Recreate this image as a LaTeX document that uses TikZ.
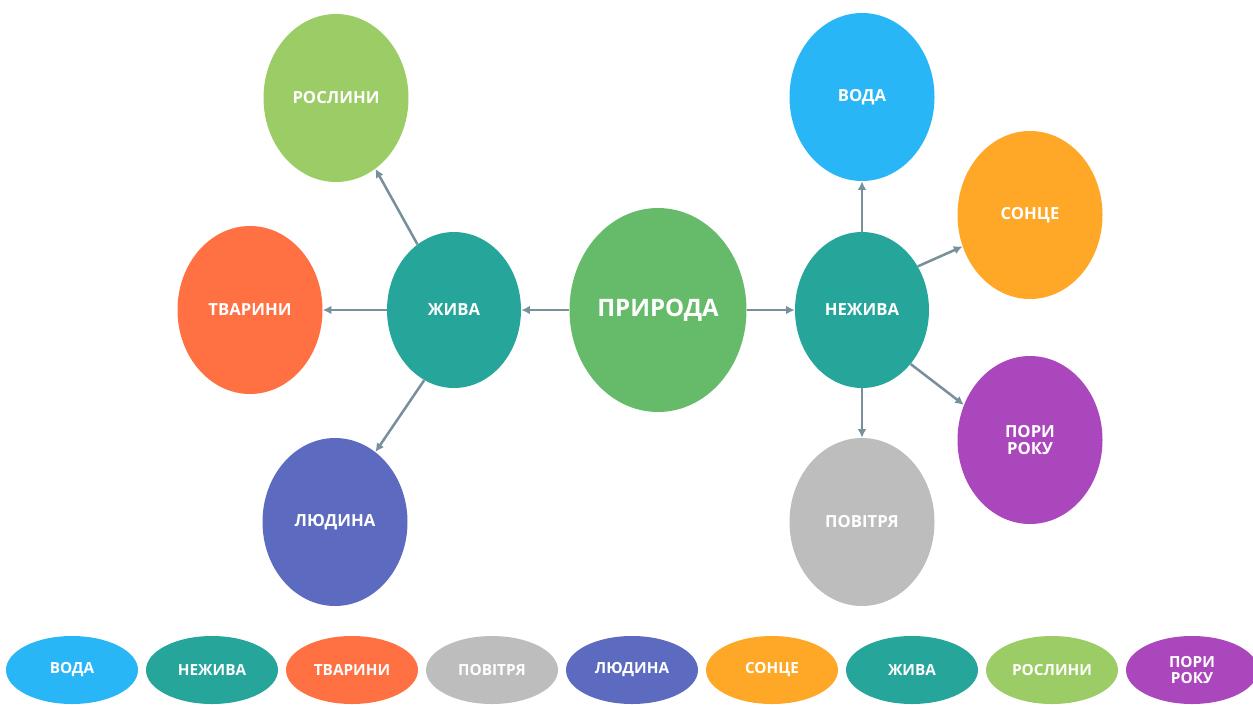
\documentclass[tikz,border=0pt]{standalone}
\usepackage{fontspec}
\setmainfont{Open Sans}
\usepackage{xcolor}
\usepackage{tikz}
\usetikzlibrary{arrows.meta, positioning, shapes.geometric}

\definecolor{rootgreen}{HTML}{66BB6A}
\definecolor{branchteal}{HTML}{26A69A}
\definecolor{plantgreen}{HTML}{9CCC65}
\definecolor{animalorange}{HTML}{FF7043}
\definecolor{humanblue}{HTML}{5C6BC0}
\definecolor{waterblue}{HTML}{29B6F6}
\definecolor{sunorange}{HTML}{FFA726}
\definecolor{seasonpurple}{HTML}{AB47BC}
\definecolor{airgray}{HTML}{BDBDBD}
\definecolor{arrowgray}{HTML}{78909C}

\begin{document}
\begin{tikzpicture}[
  x=0.75pt, y=-0.75pt,
  >=Latex,
  blob/.style={
    ellipse,
    draw=none,
    text=white,
    align=center,
    inner sep=0pt,
    font=\fontsize{12.5}{13}\selectfont\bfseries
  },
  root/.style={blob,fill=rootgreen,minimum width=132.75pt,minimum height=153pt,
    font=\fontsize{18}{20}\selectfont\bfseries},
  branch/.style={blob,fill=branchteal,minimum width=100.5pt,minimum height=117pt},
  item/.style={blob,minimum width=108.75pt,minimum height=126pt},
  card/.style={blob,minimum width=99pt,minimum height=51pt,
    font=\fontsize{11.5}{12.5}\selectfont\bfseries},
  arr/.style={-{Latex[length=6.5pt,width=6.5pt]},line width=1.9pt,draw=arrowgray}
]
\useasboundingbox (0,0) rectangle (1253,704);

\node[root] (pr) at (658,310) {ПРИРОДА};

\node[branch] (ziv) at (454,310) {ЖИВА};
\node[branch] (nez) at (862,310) {НЕЖИВА};

\node[item,fill=plantgreen] (ros) at (336,98) {РОСЛИНИ};
\node[item,fill=animalorange] (tva) at (250,310) {ТВАРИНИ};
\node[item,fill=humanblue] (lud) at (335,522) {ЛЮДИНА};

\node[item,fill=waterblue] (vod) at (862,97) {ВОДА};
\node[item,fill=sunorange] (son) at (1030,215) {СОНЦЕ};
\node[item,fill=seasonpurple] (por) at (1030,440) {ПОРИ\\РОКУ};
\node[item,fill=airgray] (pov) at (862,522) {ПОВІТРЯ};

% Row of cards along the bottom.
\node[card,fill=waterblue] (c1) at (72,670) {ВОДА};
\node[card,fill=branchteal,right=5.6pt of c1] (c2) {НЕЖИВА};
\node[card,fill=animalorange,right=5.6pt of c2] (c3) {ТВАРИНИ};
\node[card,fill=airgray,right=5.6pt of c3] (c4) {ПОВІТРЯ};
\node[card,fill=humanblue,right=5.6pt of c4] (c5) {ЛЮДИНА};
\node[card,fill=sunorange,right=5.6pt of c5] (c6) {СОНЦЕ};
\node[card,fill=branchteal,right=5.6pt of c6] (c7) {ЖИВА};
\node[card,fill=plantgreen,right=5.6pt of c7] (c8) {РОСЛИНИ};
\node[card,fill=seasonpurple,right=5.6pt of c8] (c9) {ПОРИ\\РОКУ};

\draw[arr] (pr) -- (ziv);
\draw[arr] (pr) -- (nez);

\draw[arr] (ziv) -- (ros);
\draw[arr] (ziv) -- (tva);
\draw[arr] (ziv.247) -- (lud.60);

\draw[arr] (nez) -- (vod);
\draw[arr] (nez.38) -- (son.205);
\draw[arr] (nez.-48) -- (por.152);
\draw[arr] (nez) -- (pov);

\end{tikzpicture}
\end{document}
